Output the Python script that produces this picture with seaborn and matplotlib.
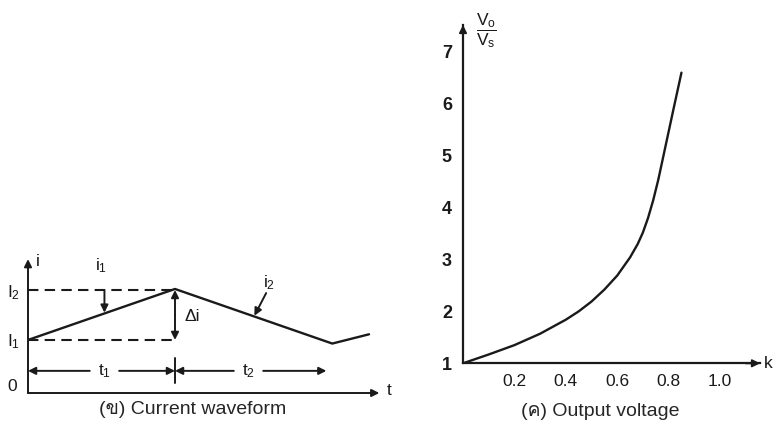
import matplotlib
matplotlib.use('Agg')
import matplotlib.pyplot as plt
import seaborn as sns
from matplotlib import font_manager
from matplotlib.ft2font import FT2Font

# ----------------------------------------------------------------------------------------------------------------------
# Values
# ----------------------------------------------------------------------------------------------------------------------

# (b) current waveform
t_wave = [0.0, 1.0, 2.07, 2.32]
i_wave = [1.03, 2.02, 0.96, 1.14]
I1, I2 = 1.03, 2.0
t1_end, t2_end = 1.0, 2.03

# (c) output voltage ratio against duty cycle k
k_vals = [0.0, 0.10, 0.20, 0.30, 0.40, 0.45, 0.50, 0.55, 0.60, 0.65, 0.68, 0.70, 0.72, 0.74, 0.76,
          0.78, 0.80, 0.82, 0.85]
v_ratio = [1.0, 1.17, 1.35, 1.57, 1.84, 2.00, 2.19, 2.42, 2.69, 3.04, 3.30, 3.52, 3.80, 4.14, 4.54,
           5.00, 5.46, 5.92, 6.60]
k_ticks = [0.2, 0.4, 0.6, 0.8, 1.0]
k_ticklabels = ['0.2', '0.4', '0.6', '0.8', '1.0']
v_ticks = [1, 2, 3, 4, 5, 6, 7]

caption_left = '(ข) Current waveform'
caption_right = '(ค) Output voltage'


def thai_family():
    # first installed font that has Thai glyphs, if any
    for f in font_manager.fontManager.ttflist:
        try:
            ft = FT2Font(f.fname)
            if ft.get_char_index(ord('ข')) and ft.get_char_index(ord('ค')):
                return f.name
        except Exception:
            pass
    return None


sns.set_theme(style='white')
families = ['Liberation Sans']
thai = thai_family()
if thai:
    families.append(thai)
families.append('DejaVu Sans')
plt.rcParams['font.family'] = families
plt.rcParams['mathtext.fontset'] = 'custom'
plt.rcParams['mathtext.rm'] = 'Liberation Sans'
plt.rcParams['mathtext.it'] = 'Liberation Sans'
plt.rcParams['mathtext.bf'] = 'Liberation Sans:bold'

fig = plt.figure(figsize=(7.75, 4.3), dpi=100)

arrow = dict(arrowstyle='-|>', color='k', lw=1.4, mutation_scale=11, shrinkA=0, shrinkB=0)
txt = dict(color='k', fontsize=12.5, ha='center', va='center')

# ----------------------------------------------------------------------------------------------------------------------
# Left: current waveform (origin at pixel 28, 393; 147 px per t unit, 51.5 px per i unit)
# ----------------------------------------------------------------------------------------------------------------------
ax1 = fig.add_axes([28 / 775, 37 / 430, 372 / 775, 143 / 430])
ax1.set_xlim(0, 372 / 147)
ax1.set_ylim(0, 143 / 51.5)
ax1.axis('off')

sns.lineplot(x=t_wave, y=i_wave, ax=ax1, color='k', lw=1.7, sort=False, estimator=None)

# axes with arrow heads
ax1.annotate('', xy=(2.39, 0), xytext=(0, 0), arrowprops=arrow, annotation_clip=False)
ax1.annotate('', xy=(0, 2.60), xytext=(0, 0), arrowprops=arrow, annotation_clip=False)
ax1.text(2.46, 0.05, 't', **txt)
ax1.text(0.07, 2.56, 'i', **txt)
ax1.text(-0.11, 0.12, '0', **txt)
ax1.text(-0.10, I2 - 0.05, r'$I_2$', **txt)
ax1.text(-0.10, I1 - 0.03, r'$I_1$', **txt)

# dashed levels
ax1.plot([0, t1_end], [I2, I2], color='k', lw=1.5, ls=(0, (5, 3)))
ax1.plot([0, t1_end - 0.02], [I1, I1], color='k', lw=1.5, ls=(0, (5, 3)))

# delta i
ax1.annotate('', xy=(t1_end, I1), xytext=(t1_end, (I1 + I2) / 2), arrowprops=arrow)
ax1.annotate('', xy=(t1_end, I2), xytext=(t1_end, (I1 + I2) / 2), arrowprops=arrow)
ax1.text(1.12, 1.48, 'Δi', **txt)

# i1 / i2 pointers
ax1.annotate('', xy=(0.52, 1.56), xytext=(0.52, I2), arrowprops=arrow)
ax1.text(0.50, 2.47, r'$i_1$', **txt)
ax1.annotate('', xy=(1.54, 1.50), xytext=(1.62, 1.94), arrowprops=arrow)
ax1.text(1.64, 2.14, r'$i_2$', **txt)

# t1 / t2 dimensions
dim_y = 0.43
ax1.plot([t1_end, t1_end], [0.19, 0.68], color='k', lw=1.4)
ax1.annotate('', xy=(0, dim_y), xytext=(0.42, dim_y), arrowprops=arrow)
ax1.annotate('', xy=(t1_end, dim_y), xytext=(0.62, dim_y), arrowprops=arrow)
ax1.text(0.52, dim_y, r'$t_1$', **txt)
ax1.annotate('', xy=(t1_end, dim_y), xytext=(1.40, dim_y), arrowprops=arrow)
ax1.annotate('', xy=(t2_end, dim_y), xytext=(1.60, dim_y), arrowprops=arrow)
ax1.text(1.50, dim_y, r'$t_2$', **txt)

fig.text(193 / 775, 1 - 410 / 430, caption_left, fontsize=14, ha='center', va='center')

# ----------------------------------------------------------------------------------------------------------------------
# Right: output voltage (origin at pixel 463, 363; 257 px per k unit, 51.9 px per ratio unit)
# ----------------------------------------------------------------------------------------------------------------------
ax2 = fig.add_axes([463 / 775, 1 - 363.3 / 430, 312 / 775, 358.3 / 430])
ax2.set_facecolor('none')
ax2.set_xlim(0, 312 / 257)
ax2.set_ylim(1, 1 + 358.3 / 51.9)

sns.lineplot(x=k_vals, y=v_ratio, ax=ax2, color='k', lw=1.7, sort=False, estimator=None)

for side in ['top', 'right']:
    ax2.spines[side].set_visible(False)
for side in ['left', 'bottom']:
    ax2.spines[side].set_color('k')
    ax2.spines[side].set_linewidth(1.6)
ax2.spines['left'].set_bounds(1, 7.52)
ax2.spines['bottom'].set_bounds(0, 1.156)
ax2.annotate('', xy=(1.156, 1), xytext=(1.10, 1), arrowprops=arrow, annotation_clip=False)
ax2.annotate('', xy=(0, 7.52), xytext=(0, 7.3), arrowprops=arrow, annotation_clip=False)

ax2.set_xticks(k_ticks, k_ticklabels)
ax2.set_yticks(v_ticks, [str(v) for v in v_ticks])
ax2.tick_params(axis='both', direction='inout', length=10, width=1.5, color='k', labelcolor='k')
ax2.tick_params(axis='x', labelsize=12.5, pad=3)
ax2.tick_params(axis='y', labelsize=13, pad=3)
for lab in ax2.get_yticklabels():
    lab.set_fontweight('bold')
ax2.yaxis.get_major_ticks()[0].tick1line.set_visible(False)
ax2.set_xlabel('')
ax2.set_ylabel('')

ax2.text(1.187, 1.0, 'k', **txt)
ax2.text(0.09, 7.42, r'$\dfrac{V_o}{V_s}$', color='k', fontsize=12.5, ha='center', va='center')

fig.text(600 / 775, 1 - 411 / 430, caption_right, fontsize=14, ha='center', va='center')

fig.savefig('out.png', dpi=100, facecolor='white')
